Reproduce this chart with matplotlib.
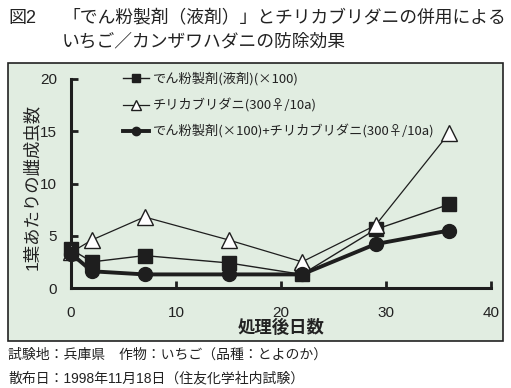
import matplotlib
matplotlib.use("Agg")
import matplotlib.pyplot as plt
from matplotlib.patches import Rectangle

plt.rcParams['font.family'] = ['Liberation Sans', 'Noto Sans CJK JP', 'DejaVu Sans']

days = [0, 2, 7, 15, 22, 29, 36]
starch = [3.7, 2.5, 3.1, 2.4, 1.3, 5.6, 8.0]
predator = [3.4, 4.6, 6.8, 4.6, 2.5, 6.0, 14.8]
combined = [3.3, 1.6, 1.3, 1.3, 1.3, 4.2, 5.5]
labels = ['でん粉製剤(液剤)(×100)',
          'チリカブリダニ(300♀/10a)',
          'でん粉製剤(×100)+チリカブリダニ(300♀/10a)']
xticks = [0, 10, 20, 30, 40]
yticks = [0, 5, 10, 15, 20]

W, H = 511, 388
fig = plt.figure(figsize=(W/100, H/100), dpi=100)
fig.patch.set_facecolor('white')

panel = Rectangle((8/W, 1-341/H), 495/W, 278/H, transform=fig.transFigure,
                  facecolor='#e1ede1', edgecolor='#222222', lw=1.2, zorder=-10)
fig.patches.append(panel)

ax = fig.add_axes([71/W, 1-288/H, 420/W, 209/H])
ax.set_zorder(1)
ax.set_facecolor('none')
ax.plot(days, starch, '-', color='#1e1e1e', lw=1.0, marker='s', ms=10,
        mfc='#1e1e1e', mec='#1e1e1e', label=labels[0], clip_on=False, zorder=3)
ax.plot(days, predator, '-', color='#1e1e1e', lw=0.9, marker='^', ms=12,
        mfc='white', mec='#1e1e1e', mew=1.0, label=labels[1], clip_on=False, zorder=4)
ax.plot(days, combined, '-', color='#1e1e1e', lw=2.8, marker='o', ms=10,
        mfc='#1e1e1e', mec='#1e1e1e', label=labels[2], clip_on=False, zorder=5)

ax.set_xlim(0, 40)
ax.set_ylim(0, 20)
ax.set_xticks(xticks)
ax.set_yticks(yticks)
for s in ['top', 'right']:
    ax.spines[s].set_visible(False)
for s in ['left', 'bottom']:
    ax.spines[s].set_linewidth(2.2)
    ax.spines[s].set_color('#1e1e1e')
ax.tick_params(direction='in', length=5, width=2, colors='#1e1e1e',
               labelsize=11, labelcolor='#222222')
ax.tick_params(axis='x', pad=13)
ax.tick_params(axis='y', pad=10)

ax.set_xlabel('処理後日数', fontsize=12.5, fontweight='bold', color='#222222')
ax.xaxis.set_label_coords(0.5, -0.148)
ax.set_ylabel('1葉あたりの雌成虫数', fontsize=12.5, color='#222222')
ax.yaxis.set_label_coords(-0.075, 0.483)

leg = ax.legend(loc='upper left', bbox_to_anchor=(0.095, 1.09), frameon=False,
                prop={'family': ['Noto Sans CJK JP', 'DejaVu Sans'], 'size': 9.5},
                handlelength=2.0, handletextpad=0.3,
                labelspacing=0.95, markerscale=0.6)
for t in leg.get_texts():
    t.set_color('#222222')

fig.text(8/W, 1-18/H, '図2', fontsize=13, va='center', ha='left',
         color='#222222')
fig.text(62/W, 1-18/H, '「でん粉製剤（液剤）」とチリカブリダニの併用による',
         fontsize=12.8, va='center', ha='left', color='#222222')
fig.text(62/W, 1-42/H, 'いちご／カンザワハダニの防除効果',
         fontsize=12.8, va='center', ha='left', color='#222222')

fig.text(8/W, 1-355/H, '試験地：兵庫県　作物：いちご（品種：とよのか）',
         fontsize=10, va='center', ha='left', color='#222222')
fig.text(8/W, 1-378/H, '散布日：1998年11月18日（住友化学社内試験）',
         fontsize=10, va='center', ha='left', color='#222222')

fig.savefig('out.png', dpi=100)
